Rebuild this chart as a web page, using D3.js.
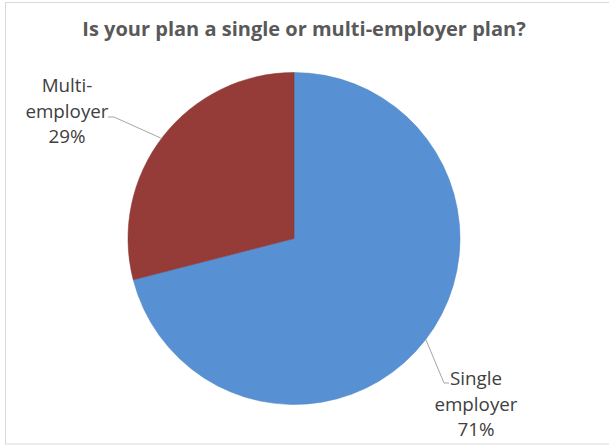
<!DOCTYPE html>
<html>
<head>
<meta charset="utf-8">
<script src="https://cdn.jsdelivr.net/npm/d3@7"></script>
<style>
  html, body { margin: 0; padding: 0; background: #fff; }
  svg { display: block; }
</style>
</head>
<body>
<svg id="chart" width="609" height="445"></svg>
<script>
// Survey answers and their shares
const categories = ["Single employer", "Multi-employer"];
const shares = [71, 29];
const labelLines = [["Single", "employer", "71%"], ["Multi-", "employer", "29%"]];
const colors = ["#5e9ce3", "#a03f3c"];

const svg = d3.select("#chart");
const W = 609, H = 445;
const font = "'Open Sans', sans-serif";

// chart frame
svg.append("rect")
  .attr("x", 5.5).attr("y", 2.5)
  .attr("width", W - 4).attr("height", H - 3.5)
  .attr("fill", "#fff").attr("stroke", "#d9d9d9").attr("stroke-width", 1);

// title
svg.append("text")
  .attr("x", 304).attr("y", 36)
  .attr("text-anchor", "middle")
  .attr("font-family", font)
  .attr("font-weight", "bold")
  .attr("font-size", 20)
  .attr("fill", "#595959")
  .text("Is your plan a single or multi-employer plan?");

const cx = 294, cy = 238.5, R = 166;

const pie = d3.pie().sort(null).value(d => d);
const arcs = pie(shares);
const arc = d3.arc().innerRadius(0).outerRadius(R);

// soft rim shading on each slice
const defs = svg.append("defs");
colors.forEach((c, i) => {
  const grad = defs.append("radialGradient")
    .attr("id", "shade" + i)
    .attr("gradientUnits", "userSpaceOnUse")
    .attr("cx", cx).attr("cy", cy).attr("r", R);
  grad.append("stop").attr("offset", "0%").attr("stop-color", c);
  grad.append("stop").attr("offset", "97.5%").attr("stop-color", c);
  grad.append("stop").attr("offset", "100%").attr("stop-color", d3.color(c).darker(0.2));
});

const g = svg.append("g").attr("transform", `translate(${cx},${cy})`);
g.selectAll("path.slice")
  .data(arcs)
  .enter().append("path")
  .attr("class", "slice")
  .attr("d", arc)
  .attr("fill", (d, i) => `url(#shade${i})`)
  .attr("stroke", (d, i) => d3.color(colors[i]).darker(0.5))
  .attr("stroke-width", 0.5);

// data labels
const labelPos = [
  { x: 476, y: 385 },
  { x: 67, y: 92 }
];
const lineH = 25.5;

arcs.forEach((a, i) => {
  const p = labelPos[i];
  const t = svg.append("text")
    .attr("text-anchor", "middle")
    .attr("font-family", font)
    .attr("font-size", 18.8)
    .attr("fill", "#404040");
  labelLines[i].forEach((s, k) => {
    t.append("tspan").attr("x", p.x).attr("y", p.y + k * lineH).text(s);
  });
});

// leader lines from each label to its slice rim
function rimPoint(angleFrac) {
  const ang = angleFrac * 2 * Math.PI;
  return [cx + R * Math.sin(ang), cy - R * Math.cos(ang)];
}
const leader = pts => svg.append("path")
  .attr("d", d3.line()(pts))
  .attr("fill", "none").attr("stroke", "#a6a6a6").attr("stroke-width", 1);

const singleRim = rimPoint(0.354);
leader([[449, 383], [444, 383], singleRim]);

const multiRim = rimPoint(0.853);
leader([[108, 117], [114, 117], multiRim]);
</script>
</body>
</html>
